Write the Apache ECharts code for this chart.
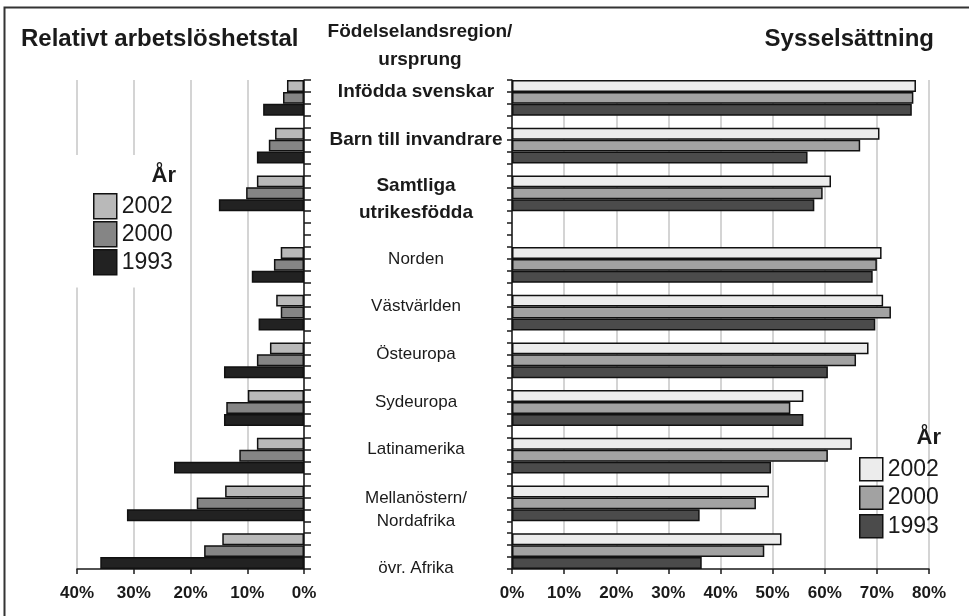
<!DOCTYPE html>
<html>
<head>
<meta charset="utf-8">
<script src="https://cdn.jsdelivr.net/npm/echarts@6/dist/echarts.min.js"></script>
<style>
  html, body { margin: 0; padding: 0; background: #fff; }
  #main { width: 969px; height: 616px; }
</style>
</head>
<body>
<div id="main"></div>
<script>
// kategorier (födelselandsregion), ordning uppifrån och ned
const regions = [
  'Infödda svenskar',
  'Barn till invandrare',
  'Samtliga\nutrikesfödda',
  'Norden',
  'Västvärlden',
  'Östeuropa',
  'Sydeuropa',
  'Latinamerika',
  'Mellanöstern/\nNordafrika',
  '\növr. Afrika'
];
const years = ['2002', '2000', '1993'];

// relativt arbetslöshetstal, %
const unemp2002 = [3.0, 5.1, 8.3, 4.1, 4.9, 6.0, 9.9, 8.3, 13.9, 14.4];
const unemp2000 = [3.7, 6.2, 10.2, 5.3, 4.1, 8.3, 13.7, 11.4, 18.9, 17.6];
const unemp1993 = [7.2, 8.3, 15.0, 9.2, 8.0, 14.1, 14.1, 22.9, 31.2, 35.9];

// sysselsättning, %
const emp2002 = [77.5, 70.5, 61.2, 70.9, 71.2, 68.4, 55.9, 65.2, 49.3, 51.7];
const emp2000 = [77.0, 66.8, 59.6, 70.0, 72.7, 66.0, 53.4, 60.6, 46.8, 48.4];
const emp1993 = [76.7, 56.7, 58.0, 69.2, 69.7, 60.6, 55.9, 49.7, 36.0, 36.4];

// tomma rader efter varje grupp (layout)
const blankRowsAfter = [1, 1, 3, 1, 1, 1, 1, 1, 1, 0];

const leftColors = ['#b9b9b9', '#858585', '#222222'];
const rightColors = ['#ececec', '#a2a2a2', '#4b4b4b'];
const font = "'Liberation Sans', Arial, sans-serif";
const ink = '#1a1a1a';

// en rad per stapel
var rows = [];
var groupStart = [];
regions.forEach(function (name, g) {
  groupStart.push(rows.length);
  for (let k = 0; k < 3; k++) rows.push({ g: g, k: k });
  for (let j = 0; j < blankRowsAfter[g]; j++) rows.push(null);
});

// etiketterna sitter på radgränserna (rows.length + 1 gränser)
var labelCats = [];
for (let i = 0; i <= rows.length; i++) labelCats.push('');
regions.forEach(function (name, g) {
  const at = groupStart[g] + (name.split('\n').length > 1 ? 2 : 1);
  if (g < 3) {
    labelCats[at] = { value: name, textStyle: { fontWeight: 'bold', fontSize: 19, lineHeight: 27, align: 'center' } };
  } else {
    labelCats[at] = name;
  }
});
const barCats = rows.map(function (r, i) { return 'r' + i; });

function rowData(vals, k) {
  return rows.map(function (r) {
    return (r && r.k === k) ? vals[r.g] : '-';
  });
}

const unemp = [unemp2002, unemp2000, unemp1993];
const emp = [emp2002, emp2000, emp1993];

var series = [];
years.forEach(function (y, k) {
  series.push({
    name: y, type: 'bar', xAxisIndex: 0, yAxisIndex: 0,
    data: rowData(unemp[k], k),
    barWidth: '100%', barGap: '-100%',
    itemStyle: { color: leftColors[k], borderColor: '#111', borderWidth: 1.5 }
  });
});
years.forEach(function (y, k) {
  series.push({
    name: y, type: 'bar', xAxisIndex: 1, yAxisIndex: 1,
    data: rowData(emp[k], k),
    barWidth: '100%', barGap: '-100%',
    itemStyle: { color: rightColors[k], borderColor: '#111', borderWidth: 1.5 }
  });
});

const axisLineStyle = { color: ink, width: 1.5 };
const gridLine = { show: true, lineStyle: { color: '#c6c6c6', width: 1.5 } };
const xLabel = { fontSize: 17, fontWeight: 'bold', color: ink, fontFamily: font, margin: 16, formatter: '{value}%' };

function legendData(colors) {
  return years.map(function (y, k) {
    return { name: y, icon: 'rect', itemStyle: { color: colors[k], borderColor: '#111', borderWidth: 1.5 } };
  });
}

var chart = echarts.init(document.getElementById('main'));
var option = {
  animation: false,
  backgroundColor: '#fff',
  textStyle: { fontFamily: font },
  title: [
    { text: 'Relativt arbetslöshetstal', left: 16, top: 22,
      textStyle: { fontSize: 24, fontWeight: 'bold', color: ink, fontFamily: font } },
    { text: 'Sysselsättning', right: 30, top: 22,
      textStyle: { fontSize: 24, fontWeight: 'bold', color: ink, fontFamily: font } },
    { text: 'Födelselandsregion/\nursprung', left: 415, top: 13, textAlign: 'center',
      textStyle: { fontSize: 19, fontWeight: 'bold', color: ink, lineHeight: 28, fontFamily: font } },
    // legendrubriker
    { text: 'År', left: 176, top: 165, textAlign: 'right', padding: 0,
      textStyle: { fontSize: 22, fontWeight: 'bold', color: ink, fontFamily: font } },
    { text: 'År', left: 941, top: 427, textAlign: 'right', padding: 0,
      textStyle: { fontSize: 22, fontWeight: 'bold', color: ink, fontFamily: font } }
  ],
  legend: [
    {
      orient: 'vertical', left: 70, top: 155, padding: [38, 6, 12, 23],
      backgroundColor: '#fff', selectedMode: false,
      itemWidth: 23, itemHeight: 25, itemGap: 1.5,
      textStyle: { fontSize: 23, color: ink, fontFamily: font },
      data: legendData(leftColors)
    },
    {
      orient: 'vertical', left: 859, top: 457, padding: 0, selectedMode: false,
      itemWidth: 23, itemHeight: 23, itemGap: 4,
      textStyle: { fontSize: 23, color: ink, fontFamily: font },
      data: legendData(rightColors)
    }
  ],
  grid: [
    { left: 77, top: 80, width: 227, height: 489 },
    { left: 512, top: 80, width: 417, height: 489 }
  ],
  xAxis: [
    {
      type: 'value', gridIndex: 0, inverse: true, min: 0, max: 40, interval: 10,
      axisLine: { show: true, lineStyle: axisLineStyle },
      axisTick: { show: true, length: 5, lineStyle: axisLineStyle },
      splitLine: gridLine,
      axisLabel: xLabel
    },
    {
      type: 'value', gridIndex: 1, min: 0, max: 80, interval: 10,
      axisLine: { show: true, lineStyle: axisLineStyle },
      axisTick: { show: true, length: 5, lineStyle: axisLineStyle },
      splitLine: gridLine,
      axisLabel: xLabel
    }
  ],
  yAxis: [
    {
      type: 'category', gridIndex: 0, position: 'right', inverse: true,
      data: barCats,
      axisLine: { show: true, lineStyle: axisLineStyle },
      axisTick: { show: true, length: 7, interval: 0, lineStyle: axisLineStyle },
      axisLabel: { show: false }
    },
    {
      type: 'category', gridIndex: 1, position: 'left', inverse: true,
      data: barCats,
      axisLine: { show: true, lineStyle: axisLineStyle },
      axisTick: { show: true, length: 5, interval: 0, lineStyle: axisLineStyle },
      axisLabel: { show: false }
    },
    {
      // bara regionnamnen, placerade på radgränserna
      type: 'category', gridIndex: 1, position: 'left', inverse: true, boundaryGap: false,
      data: labelCats,
      axisLine: { show: false },
      axisTick: { show: false },
      splitLine: { show: false },
      axisLabel: {
        interval: 0, align: 'center', margin: 96,
        fontSize: 17, lineHeight: 23, color: ink, fontFamily: font
      }
    }
  ],
  // ram runt figuren
  graphic: [{
    type: 'polyline', silent: true,
    shape: { points: [[4.5, 616], [4.5, 7.5], [969, 7.5]] },
    style: { stroke: '#333', lineWidth: 2, fill: null }
  }],
  series: series
};
chart.setOption(option);
</script>
</body>
</html>
